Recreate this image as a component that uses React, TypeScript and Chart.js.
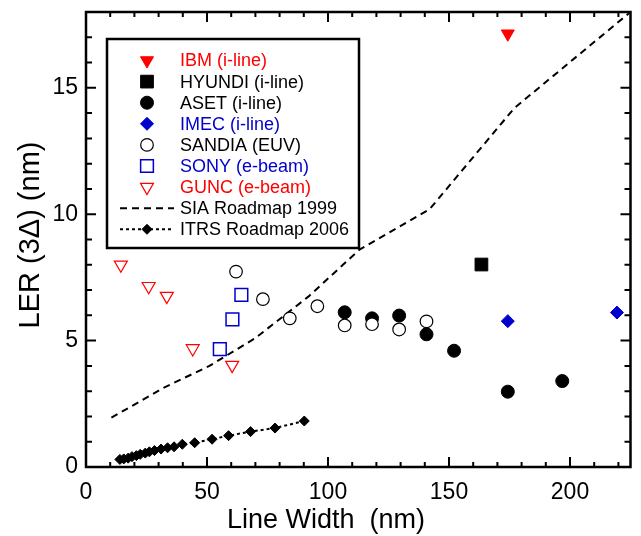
import React, { useEffect, useRef } from 'react';
import { Chart, registerables } from 'chart.js';
import { drawPoint } from 'chart.js/helpers';

Chart.register(...registerables);

const FONT = '"Liberation Sans", Arial, Helvetica, sans-serif';
const RED = 'rgb(255,0,0)';
const BLUE = 'rgb(0,0,205)';
const BLACK = '#000000';

// ---- data ----
const ibmX = [174.3];
const ibmY = [17.14];
const hyundiX = [163.4];
const hyundiY = [8.01];
const asetX = [106.9, 118.2, 129.4, 140.7, 152.1, 174.3, 196.8];
const asetY = [6.12, 5.88, 5.99, 5.25, 4.6, 2.98, 3.4];
const imecX = [174.3, 219.4];
const imecY = [5.77, 6.11];
const sandiaX = [62.0, 73.1, 84.2, 95.6, 106.9, 118.2, 129.4, 140.7];
const sandiaY = [7.73, 6.64, 5.88, 6.36, 5.6, 5.65, 5.44, 5.76];
const sonyX = [55.3, 60.5, 64.2];
const sonyY = [4.66, 5.84, 6.81];
const guncX = [14.4, 25.9, 33.4, 44.1, 60.4];
const guncY = [8.0, 7.15, 6.76, 4.69, 4.03];
const siaX = [10.5, 32, 51, 70, 92, 113, 142, 177, 225];
const siaY = [1.95, 3.13, 4.0, 5.1, 6.75, 8.6, 10.2, 14.2, 18.0];
const itrsX = [14.0, 15.6, 17.4, 19.0, 20.8, 22.4, 24.5, 26.2, 28.3, 31.0, 33.7, 36.4, 39.8, 44.9, 52.1, 58.9, 68.0, 78.1, 90.2];
const itrsY = [0.3, 0.32, 0.35, 0.41, 0.45, 0.5, 0.55, 0.6, 0.65, 0.71, 0.76, 0.8, 0.9, 0.96, 1.1, 1.24, 1.4, 1.54, 1.82];

const xTickLabels = [0, 50, 100, 150, 200];
const yTickLabels = [0, 5, 10, 15];
const X_MIN = 0, X_MAX = 225, Y_MIN = 0, Y_MAX = 18;
const X_MINOR = 10, Y_MINOR = 1;

const xTitle = 'Line Width  (nm)';
const yTitle = 'LER (3\u0394) (nm)';

const pts = (xs: number[], ys: number[]) => xs.map((x, i) => ({ x, y: ys[i] }));

const framePlugin = {
  id: 'frame',
  afterDatasetsDraw(chart: any) {
    const { ctx, chartArea } = chart;
    const { left, right, top, bottom } = chartArea;
    const xs = chart.scales.x;
    const ys = chart.scales.y;
    ctx.save();
    ctx.strokeStyle = BLACK;
    ctx.lineWidth = 2;
    ctx.beginPath();
    for (let v = X_MIN; v <= X_MAX + 0.001; v += X_MINOR) {
      const p = xs.getPixelForValue(v);
      const len = xTickLabels.includes(v) ? 10 : 5;
      ctx.moveTo(p, bottom); ctx.lineTo(p, bottom - len);
      ctx.moveTo(p, top); ctx.lineTo(p, top + len);
    }
    for (let v = Y_MIN; v <= Y_MAX + 0.001; v += Y_MINOR) {
      const p = ys.getPixelForValue(v);
      const len = yTickLabels.includes(v) ? 10 : 6;
      ctx.moveTo(left, p); ctx.lineTo(left + len, p);
      ctx.moveTo(right, p); ctx.lineTo(right - len, p);
    }
    ctx.stroke();
    ctx.lineWidth = 2.5;
    ctx.strokeRect(left, top, right - left, bottom - top);

    // axis titles
    ctx.fillStyle = BLACK;
    ctx.textAlign = 'center';
    ctx.textBaseline = 'middle';
    ctx.font = `27px ${FONT}`;
    ctx.fillText(xTitle, 326, 521);
    ctx.font = `29px ${FONT}`;
    ctx.translate(31, 235);
    ctx.rotate(-Math.PI / 2);
    ctx.fillText(yTitle, 0, 0);
    ctx.restore();
  },
};

const legendPlugin = {
  id: 'boxLegend',
  afterDraw(chart: any) {
    const { ctx } = chart;
    const bx = 107, by = 39, bw = 252, bh = 209;
    ctx.save();
    ctx.fillStyle = '#ffffff';
    ctx.fillRect(bx, by, bw, bh);
    ctx.lineWidth = 2.5;
    ctx.strokeStyle = BLACK;
    ctx.strokeRect(bx, by, bw, bh);
    ctx.font = `18px ${FONT}`;
    ctx.textBaseline = 'middle';
    ctx.textAlign = 'left';
    chart.data.datasets.forEach((ds: any, i: number) => {
      const y = 60.5 + i * 21.1;
      const mx = 147;
      if (ds.showLine) {
        ctx.save();
        ctx.strokeStyle = ds.borderColor;
        ctx.lineWidth = ds.borderWidth;
        ctx.setLineDash(ds.borderDash || []);
        ctx.beginPath();
        ctx.moveTo(120, y);
        ctx.lineTo(174, y);
        ctx.stroke();
        ctx.restore();
      }
      if (ds.pointRadius > 0) {
        ctx.save();
        ctx.fillStyle = ds.pointBackgroundColor;
        ctx.strokeStyle = ds.pointBorderColor;
        ctx.lineWidth = ds.pointBorderWidth;
        drawPoint(ctx, {
          pointStyle: ds.pointStyle,
          rotation: ds.pointRotation || 0,
          radius: ds.pointRadius,
          borderWidth: ds.pointBorderWidth,
        }, mx, y);
        ctx.restore();
      }
      ctx.fillStyle = ds.legendColor;
      ctx.fillText(ds.label, 180, y + 1);
    });
    ctx.restore();
  },
};

function marker(label: string, data: any[], style: string, radius: number, fill: string, stroke: string, bw: number, legendColor: string, rotation = 0, order = 0) {
  return {
    label,
    data,
    showLine: false,
    pointStyle: style,
    pointRotation: rotation,
    pointRadius: radius,
    pointHoverRadius: radius,
    pointBackgroundColor: fill,
    pointBorderColor: stroke,
    pointBorderWidth: bw,
    backgroundColor: fill,
    borderColor: stroke,
    legendColor,
    order,
    clip: false,
  };
}

export default function App() {
  const ref = useRef<HTMLCanvasElement | null>(null);
  useEffect(() => {
    if (!ref.current) return;
    const datasets: any[] = [
      marker('IBM (i-line)', pts(ibmX, ibmY), 'triangle', 7.5, RED, RED, 1, RED, 180, 1),
      marker('HYUNDI (i-line)', pts(hyundiX, hyundiY), 'rect', 9, BLACK, BLACK, 1, BLACK, 0, 1),
      marker('ASET (i-line)', pts(asetX, asetY), 'circle', 6.5, BLACK, BLACK, 1, BLACK, 0, 2),
      marker('IMEC (i-line)', pts(imecX, imecY), 'rectRot', 6.5, BLUE, BLUE, 1, BLUE, 0, 1),
      marker('SANDIA (EUV)', pts(sandiaX, sandiaY), 'circle', 6.3, '#ffffff', BLACK, 1.2, BLACK, 0, 1),
      marker('SONY (e-beam)', pts(sonyX, sonyY), 'rect', 9, 'rgba(255,255,255,0)', BLUE, 1.5, BLUE, 0, 1),
      marker('GUNC (e-beam)', pts(guncX, guncY), 'triangle', 7.5, 'rgba(255,255,255,0)', RED, 1.2, RED, 180, 1),
      {
        label: 'SIA Roadmap 1999',
        data: pts(siaX, siaY),
        showLine: true,
        borderColor: BLACK,
        borderWidth: 2,
        borderDash: [7, 5],
        pointRadius: 0,
        pointHoverRadius: 0,
        legendColor: BLACK,
        order: 5,
        clip: false,
      },
      {
        label: 'ITRS Roadmap 2006',
        data: pts(itrsX, itrsY),
        showLine: true,
        borderColor: BLACK,
        borderWidth: 2,
        borderDash: [3, 3],
        pointStyle: 'rectRot',
        pointRadius: 5,
        pointHoverRadius: 5,
        pointBackgroundColor: BLACK,
        pointBorderColor: BLACK,
        pointBorderWidth: 1,
        backgroundColor: BLACK,
        legendColor: BLACK,
        order: 4,
        clip: false,
      },
    ];
    const chart = new Chart(ref.current, {
      type: 'scatter',
      data: { datasets },
      options: {
        animation: false,
        responsive: false,
        events: [],
        layout: { padding: { top: 12, right: 4, left: 0, bottom: 0 } },
        plugins: {
          legend: { display: false },
          tooltip: { enabled: false },
          title: { display: false },
        },
        scales: {
          x: {
            type: 'linear',
            min: X_MIN,
            max: X_MAX,
            afterBuildTicks: (s: any) => { s.ticks = xTickLabels.map((v) => ({ value: v })); },
            afterFit: (s: any) => { s.height = 69; s.paddingLeft = 0; s.paddingRight = 0; },
            ticks: { font: { family: FONT, size: 23 }, color: BLACK, padding: 12, maxRotation: 0, autoSkip: false },
            grid: { display: false, drawTicks: false },
            border: { display: false },
          },
          y: {
            type: 'linear',
            min: Y_MIN,
            max: Y_MAX,
            afterBuildTicks: (s: any) => { s.ticks = yTickLabels.map((v) => ({ value: v })); },
            afterFit: (s: any) => { s.width = 86; s.paddingTop = 0; s.paddingBottom = 0; },
            ticks: { font: { family: FONT, size: 23 }, color: BLACK, padding: 8, autoSkip: false },
            grid: { display: false, drawTicks: false },
            border: { display: false },
          },
        },
      },
      plugins: [framePlugin, legendPlugin],
    } as any);
    return () => chart.destroy();
  }, []);
  return (
    <div style={{ position: 'fixed', left: 0, top: 0, width: 641, height: 536, background: '#fff' }}>
      <canvas ref={ref} width={641} height={536} style={{ display: 'block' }} />
    </div>
  );
}
